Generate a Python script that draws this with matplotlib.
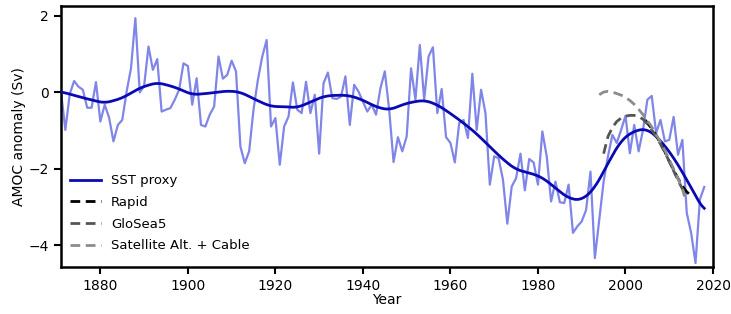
import numpy as np
import matplotlib
matplotlib.use('Agg')
from matplotlib import pyplot as plt

plt.rcParams['font.family'] = ['DejaVu Sans']

years = np.arange(1871, 2019)
sst_annual = [
    0.02, -0.98, -0.05, 0.30, 0.15, 0.07, -0.40, -0.40, 0.27, -0.76,
    -0.32, -0.66, -1.28, -0.85, -0.72, 0.02, 0.63, 1.94, 0.00, 0.17,
    1.20, 0.59, 0.87, -0.50, -0.45, -0.41, -0.19, 0.07, 0.76, 0.69,
    -0.32, 0.37, -0.85, -0.89, -0.58, -0.37, 0.94, 0.36, 0.46, 0.83,
    0.55, -1.41, -1.85, -1.54, -0.45, 0.33, 0.94, 1.37, -0.89, -0.67,
    -1.89, -0.89, -0.63, 0.26, -0.45, -0.54, 0.28, -0.54, -0.06, -1.60,
    0.24, 0.52, -0.15, -0.17, -0.11, 0.42, -0.85, 0.20, 0.02, -0.24,
    -0.50, -0.32, -0.58, 0.11, 0.55, -0.45, -1.82, -1.17, -1.54, -1.15,
    0.63, -0.19, 1.24, -0.19, 0.94, 1.18, -0.54, 0.09, -1.17, -1.32,
    -1.83, -0.80, -0.72, -1.19, 0.49, -0.98, 0.07, -0.54, -2.41, -1.67,
    -1.72, -2.28, -3.43, -2.46, -2.24, -1.60, -2.56, -1.74, -1.83, -2.41,
    -1.02, -1.67, -2.85, -2.33, -2.87, -2.89, -2.41, -3.67, -3.50, -3.37,
    -3.07, -2.07, -4.33, -3.33, -2.33, -1.67, -1.11, -1.32, -0.98, -0.61,
    -1.59, -0.85, -1.54, -0.98, -0.19, -0.09, -1.06, -0.72, -1.28, -1.24,
    -0.64, -1.63, -1.24, -3.15, -3.67, -4.46, -2.80, -2.47,
]

# smoothed SST proxy, read at control years
smooth_years = [1871, 1876, 1881, 1885, 1889, 1893, 1897, 1901, 1905, 1909,
                1912, 1916, 1919, 1922, 1925, 1928, 1931, 1934, 1937, 1940,
                1943, 1946, 1950, 1954, 1957, 1960, 1963, 1966, 1969, 1972,
                1975, 1978, 1981, 1984, 1987, 1990, 1993, 1996, 1999, 2002,
                2005, 2008, 2011, 2014, 2018]
smooth_vals = [0.02, -0.14, -0.28, -0.15, 0.12, 0.26, 0.14, -0.06, -0.02, 0.04,
               0.01, -0.22, -0.37, -0.37, -0.40, -0.25, -0.10, -0.07, -0.08, -0.20,
               -0.38, -0.46, -0.28, -0.20, -0.32, -0.55, -0.80, -1.08, -1.42, -1.75,
               -2.02, -2.10, -2.22, -2.50, -2.77, -2.82, -2.50, -1.85, -1.25, -1.00,
               -0.95, -1.25, -1.70, -2.28, -3.11]

rapid_years = [2004.5, 2005, 2006, 2007, 2008, 2009, 2010, 2011, 2012, 2013, 2014, 2015]
rapid_vals = [-0.72, -0.80, -0.94, -1.12, -1.33, -1.55, -1.80, -2.03, -2.25, -2.45, -2.60, -2.70]

glosea_years = [1995, 1996, 1997, 1998, 1999, 2000, 2001, 2002, 2003, 2004, 2005,
                2006, 2007, 2008, 2009, 2010, 2011, 2012, 2013, 2014]
glosea_vals = [-1.60, -1.15, -0.92, -0.76, -0.67, -0.62, -0.60, -0.60, -0.63, -0.70, -0.82,
               -0.98, -1.15, -1.35, -1.57, -1.80, -2.05, -2.30, -2.52, -2.70]

sat_years = [1994, 1995, 1996, 1997, 1998, 1999, 2000, 2001, 2002, 2003, 2004,
             2005, 2006, 2007, 2008, 2009, 2010, 2011, 2012, 2013, 2013.5]
sat_vals = [-0.06, 0.01, 0.03, 0.01, -0.03, -0.07, -0.13, -0.21, -0.31, -0.44, -0.58,
            -0.74, -0.90, -1.10, -1.30, -1.52, -1.75, -2.00, -2.25, -2.52, -2.72]

fig = plt.figure(figsize=(7.31, 3.14), dpi=100)
ax = fig.add_axes([0.0834, 0.150, 0.892, 0.831])

# smooth curve through the read points
fine = np.linspace(smooth_years[0], smooth_years[-1], 600)
sm = np.interp(fine, smooth_years, smooth_vals)
k = np.ones(13) / 13
sm_s = np.convolve(np.pad(sm, 6, mode='edge'), k, mode='valid')

ax.plot(years, sst_annual, color='#8085e8', lw=1.6, zorder=2)
ax.plot(fine, sm_s, color='#0a0ab4', lw=2.0, label='SST proxy', zorder=3)
ax.plot(rapid_years, rapid_vals, color='black', lw=2.0, ls=(0, (3.5, 2)), label='Rapid', zorder=4)
ax.plot(glosea_years, glosea_vals, color='#555555', lw=2.0, ls=(0, (3.5, 2)), label='GloSea5', zorder=4)
ax.plot(sat_years, sat_vals, color='#8c8c8c', lw=2.0, ls=(0, (3.5, 2)), label='Satellite Alt. + Cable', zorder=4)

ax.set_xlim(1871, 2020)
ax.set_ylim(-4.56, 2.26)
ax.set_xticks([1880, 1900, 1920, 1940, 1960, 1980, 2000, 2020])
ax.set_yticks([-4, -2, 0, 2])
ax.set_yticklabels(['\u22124', '\u22122', '0', '2'])
ax.set_xlabel('Year', fontsize=10, labelpad=0)
ax.set_ylabel('AMOC anomaly (Sv)', fontsize=10, labelpad=2)
ax.tick_params(labelsize=10, width=1.5, length=5)
for s in ax.spines.values():
    s.set_linewidth(1.8)

ax.legend(loc='lower left', bbox_to_anchor=(0.0, 0.02), frameon=False, fontsize=9.5,
          handlelength=2.3, borderaxespad=0.3, labelspacing=0.66)

plt.savefig('out.png', dpi=100)
